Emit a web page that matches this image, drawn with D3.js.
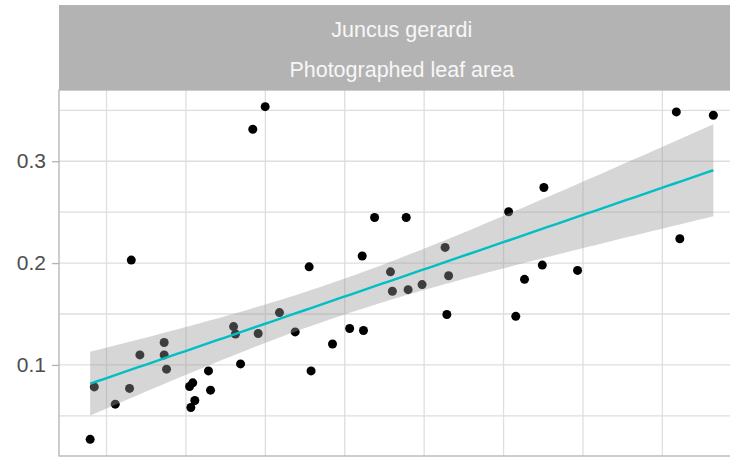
<!DOCTYPE html>
<html>
<head>
<meta charset="utf-8">
<script src="https://cdn.jsdelivr.net/npm/d3@7/dist/d3.min.js"></script>
<style>
  html, body { margin: 0; padding: 0; background: #ffffff; overflow: hidden; }
  svg { display: block; font-family: "Liberation Sans", Arial, sans-serif; }
</style>
</head>
<body>
<svg id="chart" width="730" height="457"></svg>
<script>
// Facet strip labels
const stripLines = ["Juncus gerardi", "Photographed leaf area"];

// Measured vs photographed leaf area, one entry per leaf
const measured = [
  0.0397, 0.0423, 0.0555, 0.0645, 0.0656, 0.0710, 0.0863, 0.0863, 0.0878, 0.1023,
  0.1043, 0.1056, 0.1031, 0.1142, 0.1155, 0.1300, 0.1312, 0.1344, 0.1421, 0.1455,
  0.1499, 0.1589, 0.1688, 0.1776, 0.1788, 0.1923, 0.2031, 0.2110, 0.2118, 0.2188,
  0.2288, 0.2300, 0.2387, 0.2399, 0.2487, 0.2632, 0.2654, 0.2643, 0.3032, 0.3077,
  0.3132, 0.3244, 0.3254, 0.3466, 0.4088, 0.4110, 0.4321
];
const photographed = [
  0.0269, 0.0784, 0.0615, 0.0769, 0.2029, 0.1098, 0.1220, 0.1098, 0.0958, 0.0788,
  0.0824, 0.0651, 0.0582, 0.0941, 0.0752, 0.1376, 0.1304, 0.1010, 0.3314, 0.1308,
  0.3536, 0.1514, 0.1324, 0.1963, 0.0941, 0.1205, 0.1357, 0.2069, 0.1338, 0.2448,
  0.1914, 0.1723, 0.2448, 0.1739, 0.1789, 0.2154, 0.1876, 0.1495, 0.2504, 0.1477,
  0.1840, 0.1980, 0.2742, 0.1928, 0.3484, 0.2239, 0.3451
];

// Axis breaks
const yMajorTicks = [0.1, 0.2, 0.3];
const yTickLabels = ["0.1", "0.2", "0.3"];
const yMinorBreaks = [0.05, 0.15, 0.25, 0.35];
const xBreaks = [0.05, 0.1, 0.15, 0.2, 0.25, 0.3, 0.35, 0.4, 0.45];

const svg = d3.select("#chart");
const panel = { left: 59, right: 744.5, top: 90, bottom: 456 };
const strip = { top: 5, bottom: 90 };

// 5% expansion on both sides, as a default continuous scale would
function expanded(vals) {
  const [lo, hi] = d3.extent(vals);
  const pad = (hi - lo) * 0.05;
  return [lo - pad, hi + pad];
}

const x = d3.scaleLinear().domain(expanded(measured)).range([panel.left, panel.right]);
const y = d3.scaleLinear().domain(expanded(photographed)).range([panel.bottom, panel.top]);

const points = measured.map((m, i) => ({ x: m, y: photographed[i] }));

// Ordinary least squares fit with a 95% confidence band
const n = points.length;
const mx = d3.mean(measured), my = d3.mean(photographed);
const sxx = d3.sum(measured, v => (v - mx) ** 2);
const sxy = d3.sum(points, p => (p.x - mx) * (p.y - my));
const slope = sxy / sxx;
const intercept = my - slope * mx;
const rss = d3.sum(points, p => (p.y - (intercept + slope * p.x)) ** 2);
const sigma = Math.sqrt(rss / (n - 2));
const tCrit = 2.0141; // 0.975 quantile of t with 45 degrees of freedom

const [xMin, xMax] = d3.extent(measured);
const fit = d3.range(80).map(i => {
  const xv = xMin + (xMax - xMin) * i / 79;
  const yv = intercept + slope * xv;
  const se = sigma * Math.sqrt(1 / n + (xv - mx) ** 2 / sxx);
  return { x: xv, y: yv, lo: yv - tCrit * se, hi: yv + tCrit * se };
});

svg.append("clipPath").attr("id", "panel-clip")
  .append("rect")
  .attr("x", panel.left).attr("y", panel.top)
  .attr("width", panel.right - panel.left).attr("height", panel.bottom - panel.top);

const plot = svg.append("g").attr("clip-path", "url(#panel-clip)");

// Grid
const gridColor = "#dedede";
plot.append("g").selectAll("line")
  .data(yMajorTicks.concat(yMinorBreaks))
  .join("line")
  .attr("x1", panel.left).attr("x2", panel.right)
  .attr("y1", d => y(d)).attr("y2", d => y(d))
  .attr("stroke", gridColor).attr("stroke-width", 1.3);

plot.append("g").selectAll("line")
  .data(xBreaks)
  .join("line")
  .attr("x1", d => x(d)).attr("x2", d => x(d))
  .attr("y1", panel.top).attr("y2", panel.bottom)
  .attr("stroke", gridColor).attr("stroke-width", 1.3);

// Observations
plot.append("g").selectAll("circle")
  .data(points)
  .join("circle")
  .attr("cx", d => x(d.x)).attr("cy", d => y(d.y))
  .attr("r", 4.5)
  .attr("fill", "#000000");

// Confidence band
plot.append("path")
  .datum(fit)
  .attr("d", d3.area().x(d => x(d.x)).y0(d => y(d.lo)).y1(d => y(d.hi)))
  .attr("fill", "#999999")
  .attr("fill-opacity", 0.4);

// Fitted line
plot.append("path")
  .datum(fit)
  .attr("d", d3.line().x(d => x(d.x)).y(d => y(d.y)))
  .attr("fill", "none")
  .attr("stroke", "#00BFC4")
  .attr("stroke-width", 2.4);

// Panel border
svg.append("rect")
  .attr("x", panel.left).attr("y", panel.top)
  .attr("width", panel.right - panel.left).attr("height", panel.bottom - panel.top)
  .attr("fill", "none").attr("stroke", "#b3b3b3").attr("stroke-width", 1.3);

// Strip
svg.append("rect")
  .attr("x", panel.left).attr("y", strip.top)
  .attr("width", panel.right - panel.left).attr("height", strip.bottom - strip.top)
  .attr("fill", "#b3b3b3");

const stripCx = (panel.left + panel.right) / 2;
svg.append("g").selectAll("text")
  .data(stripLines)
  .join("text")
  .attr("x", stripCx)
  .attr("y", (d, i) => 37 + i * 40)
  .attr("text-anchor", "middle")
  .attr("font-size", 21.5)
  .attr("fill", "#f7f7f7")
  .text(d => d);

// Y axis
const yAxis = d3.axisLeft(y)
  .tickValues(yMajorTicks)
  .tickFormat((d, i) => yTickLabels[i])
  .tickSize(7)
  .tickPadding(6);

const yg = svg.append("g")
  .attr("transform", `translate(${panel.left},0)`)
  .call(yAxis);
yg.select(".domain").remove();
yg.selectAll(".tick line").attr("stroke", "#b3b3b3").attr("stroke-width", 1.3);
yg.selectAll(".tick text")
  .attr("font-size", 21)
  .attr("font-family", "Liberation Sans, Arial, sans-serif")
  .attr("fill", "#4d4d4d");
</script>
</body>
</html>
